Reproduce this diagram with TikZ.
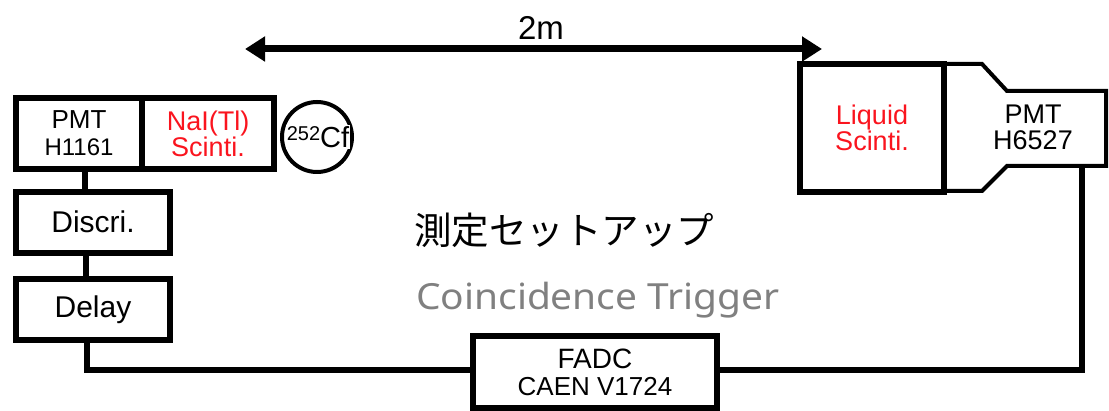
\documentclass[tikz,border=0pt]{standalone}
\usepackage{fontspec}
\setmainfont{Liberation Sans}
\newfontfamily\jpfont{Noto Sans CJK JP}
\newfontfamily\trigfont{Noto Sans}
\usetikzlibrary{arrows.meta}
\definecolor{sred}{RGB}{250,20,30}
\definecolor{sgray}{RGB}{128,128,128}
\newcommand{\fsz}[1]{\fontsize{#1}{#1}\selectfont}
\begin{document}
\begin{tikzpicture}[x=1pt,y=-1pt,
  box/.style={draw, line width=6pt, inner sep=0pt, align=center, font=\fsz{27}},
  wire/.style={line width=6pt},
  lbl/.style={inner sep=0pt, align=center}]
\useasboundingbox (0,0) rectangle (1109,411);
% left detector
\node[box, minimum width=126pt, minimum height=71pt] (pmt1) at (79,133.5)
  {\fsz{26}PMT\\[0pt]\fsz{24}H1161};
\node[box, minimum width=132pt, minimum height=71pt, text=sred] (nai) at (208,133.5)
  {\fsz{27}NaI(Tl)\\[-1pt]\fsz{27}Scinti.};
% source
\draw[line width=4pt] (317,137) circle (35);
\node[lbl, fill=white, inner sep=1pt] (cf) at (318,137)
  {\raisebox{7pt}{\fsz{20}252}\fsz{29}Cf};
% electronics
\node[box, minimum width=154pt, minimum height=61pt, font=\fsz{30}] (discri) at (93,222.5) {\raisebox{2pt}{Discri.}};
\node[box, minimum width=154pt, minimum height=61pt, font=\fsz{30}] (delay) at (93,309.5) {\raisebox{0pt}{Delay}};
\node[box, minimum width=244pt, minimum height=72pt] (fadc) at (595,372.5)
  {\fsz{28}FADC\\[0pt]\fsz{26}CAEN V1724};
% right detector
\draw[line width=4pt] (944,64) -- (982,64) -- (1007,91) -- (1106,91) -- (1106,166)
  -- (1007,166) -- (982,191) -- (944,191);
\node[box, line width=5.5pt, minimum width=144pt, minimum height=128pt, text=sred, font=\fsz{27}] (liq) at (872,128)
  {Liquid\\[-1pt]Scinti.};
\node[lbl, font=\fsz{27}] (pmt2) at (1033,127) {PMT\\[-1pt]H6527};
\coordinate (pmt2out) at (1082,166);
% connectors
\draw[wire] ([xshift=6pt]pmt1.south) -- ([xshift=6pt]pmt1.south |- discri.north);
\draw[wire] ([xshift=-7pt]discri.south) -- ([xshift=-7pt]discri.south |- delay.north);
\draw[wire] ([xshift=-6pt]delay.south) |- ([yshift=2.5pt]fadc.west);
\draw[wire] ([yshift=2.5pt]fadc.east) -| (pmt2out);
% distance arrow
\coordinate (al) at (245,49);
\coordinate (ar) at (822,49);
\draw[line width=7pt, {Triangle[length=20pt,width=24pt]}-{Triangle[length=20pt,width=24pt]}] (al) -- (ar);
\node[lbl, font=\fsz{33}] (dist) at (541,28) {2m};
% titles
\node[lbl, anchor=west, font=\jpfont\fsz{37.5}] (title) at (414,230) {測定セットアップ};
\node[lbl, anchor=west, text=sgray, font=\trigfont\fsz{36}] (trig) at (416,300) {\scalebox{1.08}[1]{Coincidence Trigger}};
\end{tikzpicture}
\end{document}
